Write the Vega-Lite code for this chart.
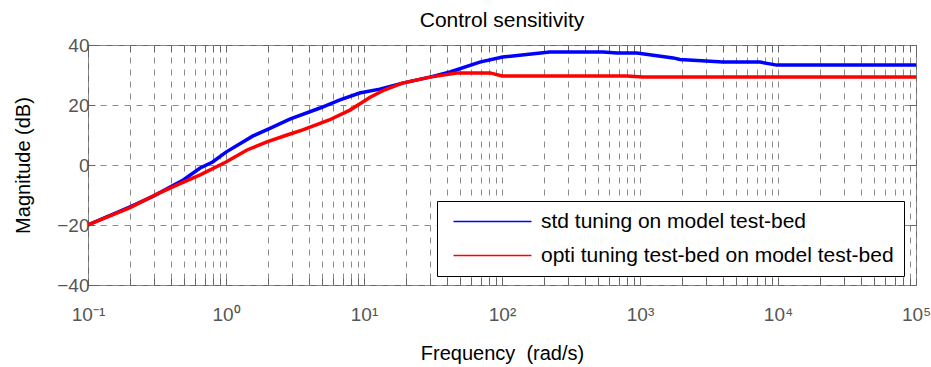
{
  "$schema": "https://vega.github.io/schema/vega-lite/v6.json",
  "width": 828,
  "height": 240,
  "autosize": "none",
  "padding": {"left": 88, "top": 45, "right": 15, "bottom": 82},
  "background": "white",
  "title": {"text": "Control sensitivity", "fontSize": 21, "fontWeight": "normal", "font": "Liberation Sans", "color": "#000", "offset": 5},
  "config": {
    "title": {"fontSize": 21, "fontWeight": "normal", "font": "Liberation Sans"},
    "view": {"stroke": "#666", "strokeWidth": 1},
    "axis": {
      "labelFont": "Liberation Sans",
      "titleFont": "Liberation Sans",
      "labelColor": "#555",
      "titleColor": "#000",
      "titleFontWeight": "normal",
      "domain": false,
      "tickColor": "#666",
      "tickSize": -7,
      "gridColor": "#8a8a8a",
      "gridDash": [6, 6],
      "gridWidth": 1
    }
  },
  "datasets": {
    "curves": [
      {"f": 0.1, "mag": -20, "s": "std tuning on model test-bed"},
      {"f": 0.2, "mag": -14, "s": "std tuning on model test-bed"},
      {"f": 0.3, "mag": -10.3, "s": "std tuning on model test-bed"},
      {"f": 0.49, "mag": -5, "s": "std tuning on model test-bed"},
      {"f": 0.65, "mag": -1, "s": "std tuning on model test-bed"},
      {"f": 0.8, "mag": 1, "s": "std tuning on model test-bed"},
      {"f": 1.0, "mag": 4.3, "s": "std tuning on model test-bed"},
      {"f": 1.57, "mag": 9.7, "s": "std tuning on model test-bed"},
      {"f": 2.1, "mag": 12.3, "s": "std tuning on model test-bed"},
      {"f": 2.9, "mag": 15.3, "s": "std tuning on model test-bed"},
      {"f": 4.8, "mag": 19, "s": "std tuning on model test-bed"},
      {"f": 6.7, "mag": 21.7, "s": "std tuning on model test-bed"},
      {"f": 9.3, "mag": 24, "s": "std tuning on model test-bed"},
      {"f": 13, "mag": 25.3, "s": "std tuning on model test-bed"},
      {"f": 19, "mag": 27.3, "s": "std tuning on model test-bed"},
      {"f": 30, "mag": 29.3, "s": "std tuning on model test-bed"},
      {"f": 42, "mag": 31, "s": "std tuning on model test-bed"},
      {"f": 69, "mag": 34.3, "s": "std tuning on model test-bed"},
      {"f": 101, "mag": 36, "s": "std tuning on model test-bed"},
      {"f": 222, "mag": 37.7, "s": "std tuning on model test-bed"},
      {"f": 540, "mag": 37.7, "s": "std tuning on model test-bed"},
      {"f": 680, "mag": 37.3, "s": "std tuning on model test-bed"},
      {"f": 950, "mag": 37.3, "s": "std tuning on model test-bed"},
      {"f": 1740, "mag": 35.7, "s": "std tuning on model test-bed"},
      {"f": 1950, "mag": 35.2, "s": "std tuning on model test-bed"},
      {"f": 4000, "mag": 34.3, "s": "std tuning on model test-bed"},
      {"f": 7400, "mag": 34.3, "s": "std tuning on model test-bed"},
      {"f": 9800, "mag": 33.3, "s": "std tuning on model test-bed"},
      {"f": 100000, "mag": 33.3, "s": "std tuning on model test-bed"},
      {"f": 0.1, "mag": -20, "s": "opti tuning test-bed on model test-bed"},
      {"f": 0.2, "mag": -14.3, "s": "opti tuning test-bed on model test-bed"},
      {"f": 0.33, "mag": -9.3, "s": "opti tuning test-bed on model test-bed"},
      {"f": 0.46, "mag": -6.3, "s": "opti tuning test-bed on model test-bed"},
      {"f": 0.65, "mag": -3.3, "s": "opti tuning test-bed on model test-bed"},
      {"f": 1.0, "mag": 1, "s": "opti tuning test-bed on model test-bed"},
      {"f": 1.42, "mag": 5, "s": "opti tuning test-bed on model test-bed"},
      {"f": 1.98, "mag": 7.7, "s": "opti tuning test-bed on model test-bed"},
      {"f": 2.77, "mag": 10, "s": "opti tuning test-bed on model test-bed"},
      {"f": 3.6, "mag": 11.7, "s": "opti tuning test-bed on model test-bed"},
      {"f": 5.6, "mag": 15, "s": "opti tuning test-bed on model test-bed"},
      {"f": 7.9, "mag": 18.3, "s": "opti tuning test-bed on model test-bed"},
      {"f": 9.8, "mag": 21, "s": "opti tuning test-bed on model test-bed"},
      {"f": 11, "mag": 22.5, "s": "opti tuning test-bed on model test-bed"},
      {"f": 14, "mag": 25, "s": "opti tuning test-bed on model test-bed"},
      {"f": 19, "mag": 27.3, "s": "opti tuning test-bed on model test-bed"},
      {"f": 30, "mag": 29.3, "s": "opti tuning test-bed on model test-bed"},
      {"f": 47, "mag": 30.7, "s": "opti tuning test-bed on model test-bed"},
      {"f": 82, "mag": 30.7, "s": "opti tuning test-bed on model test-bed"},
      {"f": 100, "mag": 29.7, "s": "opti tuning test-bed on model test-bed"},
      {"f": 800, "mag": 29.7, "s": "opti tuning test-bed on model test-bed"},
      {"f": 1050, "mag": 29.3, "s": "opti tuning test-bed on model test-bed"},
      {"f": 100000, "mag": 29.3, "s": "opti tuning test-bed on model test-bed"}
    ]
  },
  "data": {"name": "curves"},
  "resolve": {"axis": {"x": "independent", "y": "independent"}},
  "layer": [
    {
      "transform": [{"filter": "datum.s == 'std tuning on model test-bed'"}],
      "mark": {"type": "line", "strokeWidth": 3.5, "clip": true},
      "encoding": {
        "x": {
          "field": "f", "type": "quantitative",
          "scale": {"type": "log", "domain": [0.1, 100000], "nice": false},
          "axis": {
            "title": "Frequency\u00a0\u00a0(rad/s)",
            "titleFontSize": 20,
            "titlePadding": 19,
            "labelFontSize": 19,
            "labelPadding": 27,
            "labelFlush": false,
            "labelOverlap": false,
            "values": [0.1,0.2,0.3,0.4,0.5,0.6,0.7,0.8,0.9,1,2,3,4,5,6,7,8,9,10,20,30,40,50,60,70,80,90,100,200,300,400,500,600,700,800,900,1000,2000,3000,4000,5000,6000,7000,8000,9000,10000,20000,30000,40000,50000,60000,70000,80000,90000,100000],
            "labelExpr": "datum.value==0.1?'10⁻¹':datum.value==1?'10⁰':datum.value==10?'10¹':datum.value==100?'10²':datum.value==1000?'10³':datum.value==10000?'10⁴':datum.value==100000?'10⁵':''"
          }
        },
        "y": {
          "field": "mag", "type": "quantitative",
          "scale": {"domain": [-40, 40], "nice": false},
          "axis": {
            "title": "Magnitude (dB)",
            "titleFontSize": 20,
            "titlePadding": 23,
            "labelFontSize": 19,
            "labelPadding": 6,
            "values": [-40, -20, 0, 20, 40]
          }
        },
        "color": {
          "field": "s", "type": "nominal",
          "scale": {"domain": ["std tuning on model test-bed", "opti tuning test-bed on model test-bed"], "range": ["#0000ff", "#ff0000"]},
          "legend": {
            "title": null,
            "orient": "none",
            "legendX": 349,
            "legendY": 156,
            "symbolType": "M-1,0H18.5",
            "symbolSize": 64,
            "symbolStrokeWidth": 1.5,
            "labelFontSize": 21,
            "labelFont": "Liberation Sans",
            "labelColor": "#000",
            "labelOffset": 73,
            "labelLimit": 600,
            "rowPadding": 12,
            "padding": 10,
            "strokeColor": "#000",
            "fillColor": "#fff"
          }
        }
      }
    },
    {
      "transform": [{"filter": "datum.s == 'opti tuning test-bed on model test-bed'"}],
      "mark": {"type": "line", "strokeWidth": 3.5, "clip": true},
      "encoding": {
        "x": {
          "field": "f", "type": "quantitative",
          "axis": {
            "orient": "top", "title": null, "labels": false, "grid": false,
            "values": [0.1,0.2,0.3,0.4,0.5,0.6,0.7,0.8,0.9,1,2,3,4,5,6,7,8,9,10,20,30,40,50,60,70,80,90,100,200,300,400,500,600,700,800,900,1000,2000,3000,4000,5000,6000,7000,8000,9000,10000,20000,30000,40000,50000,60000,70000,80000,90000,100000]
          }
        },
        "y": {
          "field": "mag", "type": "quantitative",
          "axis": {"orient": "right", "title": null, "labels": false, "grid": false, "values": [-40, -20, 0, 20, 40]}
        },
        "color": {"field": "s", "type": "nominal"}
      }
    }
  ]
}
